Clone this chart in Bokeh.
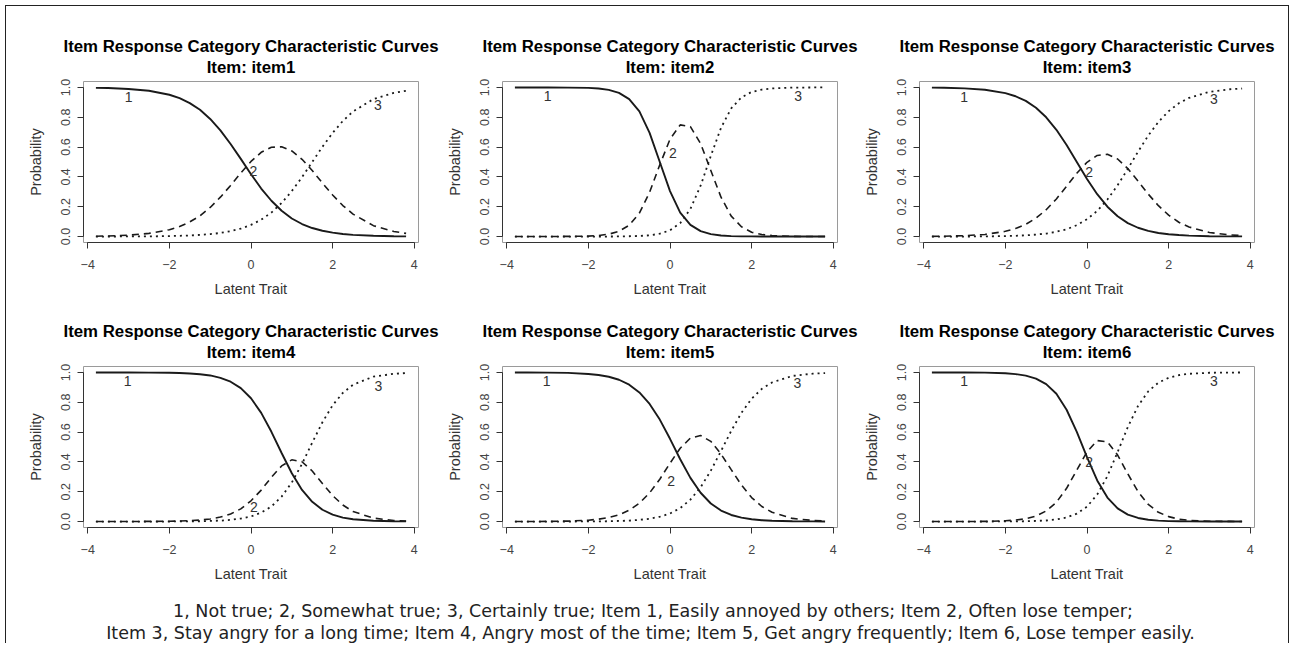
from bokeh.plotting import figure
from bokeh.models import Range1d, FixedTicker, PrintfTickFormatter, Title, Label
from bokeh.layouts import column, row
from bokeh.embed import file_html
from bokeh.resources import INLINE
from bokeh.core.properties import value

# ---------------- data ----------------
theta = [-3.8, -3.5, -3.0, -2.5, -2.0, -1.75, -1.5, -1.25, -1.0, -0.75, -0.5, -0.25,
         0.0, 0.25, 0.5, 0.75, 1.0, 1.25, 1.5, 1.75, 2.0, 2.25, 2.5, 3.0, 3.5, 3.8]

item1_cat1 = [0.997, 0.996, 0.990, 0.978, 0.951, 0.928, 0.895, 0.850, 0.789, 0.712, 0.621, 0.521, 0.418, 0.322, 0.240, 0.173, 0.121, 0.084, 0.057, 0.039, 0.026, 0.017, 0.011, 0.005, 0.002, 0.001]
item1_cat2 = [0.002, 0.004, 0.009, 0.021, 0.046, 0.067, 0.098, 0.139, 0.195, 0.264, 0.343, 0.426, 0.504, 0.565, 0.599, 0.602, 0.574, 0.518, 0.443, 0.359, 0.279, 0.208, 0.150, 0.073, 0.034, 0.021]
item1_cat3 = [0.000, 0.000, 0.001, 0.001, 0.003, 0.005, 0.007, 0.011, 0.016, 0.024, 0.036, 0.053, 0.078, 0.113, 0.161, 0.225, 0.305, 0.398, 0.500, 0.602, 0.695, 0.775, 0.839, 0.922, 0.964, 0.978]

item2_cat1 = [1.000, 1.000, 1.000, 0.999, 0.997, 0.993, 0.984, 0.964, 0.922, 0.839, 0.695, 0.500, 0.305, 0.161, 0.078, 0.036, 0.016, 0.007, 0.003, 0.001, 0.001, 0.000, 0.000, 0.000, 0.000, 0.000]
item2_cat2 = [0.000, 0.000, 0.000, 0.001, 0.003, 0.007, 0.016, 0.035, 0.076, 0.157, 0.297, 0.481, 0.653, 0.749, 0.737, 0.623, 0.443, 0.264, 0.137, 0.066, 0.029, 0.014, 0.006, 0.001, 0.000, 0.000]
item2_cat3 = [0.000, 0.000, 0.000, 0.000, 0.000, 0.000, 0.000, 0.001, 0.002, 0.004, 0.008, 0.019, 0.042, 0.090, 0.185, 0.341, 0.541, 0.729, 0.860, 0.933, 0.970, 0.986, 0.994, 0.999, 1.000, 1.000]

item3_cat1 = [0.999, 0.998, 0.994, 0.985, 0.962, 0.941, 0.910, 0.864, 0.800, 0.716, 0.614, 0.500, 0.386, 0.284, 0.200, 0.136, 0.090, 0.059, 0.038, 0.024, 0.015, 0.010, 0.006, 0.002, 0.001, 0.001]
item3_cat2 = [0.001, 0.002, 0.006, 0.014, 0.035, 0.054, 0.082, 0.123, 0.180, 0.252, 0.337, 0.424, 0.498, 0.544, 0.552, 0.520, 0.456, 0.372, 0.285, 0.207, 0.144, 0.096, 0.064, 0.027, 0.011, 0.006]
item3_cat3 = [0.000, 0.000, 0.000, 0.001, 0.003, 0.005, 0.008, 0.013, 0.020, 0.032, 0.049, 0.076, 0.116, 0.172, 0.248, 0.344, 0.454, 0.569, 0.677, 0.769, 0.841, 0.894, 0.930, 0.971, 0.988, 0.993]

item4_cat1 = [1.000, 1.000, 1.000, 0.999, 0.998, 0.996, 0.993, 0.988, 0.980, 0.964, 0.938, 0.895, 0.827, 0.729, 0.602, 0.460, 0.324, 0.212, 0.132, 0.079, 0.046, 0.026, 0.015, 0.005, 0.002, 0.001]
item4_cat2 = [0.000, 0.000, 0.000, 0.001, 0.002, 0.003, 0.006, 0.010, 0.017, 0.030, 0.051, 0.085, 0.139, 0.211, 0.297, 0.373, 0.414, 0.401, 0.339, 0.255, 0.174, 0.111, 0.067, 0.023, 0.007, 0.004]
item4_cat3 = [0.000, 0.000, 0.000, 0.000, 0.000, 0.001, 0.001, 0.002, 0.004, 0.006, 0.011, 0.020, 0.034, 0.060, 0.101, 0.167, 0.262, 0.387, 0.529, 0.666, 0.780, 0.863, 0.918, 0.972, 0.991, 0.996]

item5_cat1 = [1.000, 1.000, 0.999, 0.997, 0.990, 0.983, 0.971, 0.951, 0.918, 0.866, 0.789, 0.684, 0.555, 0.418, 0.293, 0.193, 0.121, 0.074, 0.044, 0.026, 0.015, 0.009, 0.005, 0.002, 0.001, 0.000]
item5_cat2 = [0.000, 0.000, 0.001, 0.003, 0.009, 0.016, 0.027, 0.045, 0.076, 0.123, 0.192, 0.284, 0.391, 0.492, 0.560, 0.577, 0.538, 0.453, 0.348, 0.245, 0.161, 0.101, 0.062, 0.021, 0.007, 0.004]
item5_cat3 = [0.000, 0.000, 0.000, 0.000, 0.001, 0.001, 0.002, 0.004, 0.006, 0.011, 0.019, 0.032, 0.054, 0.090, 0.147, 0.230, 0.341, 0.473, 0.608, 0.729, 0.824, 0.890, 0.933, 0.977, 0.992, 0.996]

item6_cat1 = [1.000, 1.000, 1.000, 0.999, 0.995, 0.989, 0.979, 0.959, 0.922, 0.857, 0.750, 0.602, 0.432, 0.276, 0.161, 0.088, 0.046, 0.024, 0.012, 0.006, 0.003, 0.002, 0.001, 0.000, 0.000, 0.000]
item6_cat2 = [0.000, 0.000, 0.000, 0.001, 0.005, 0.010, 0.019, 0.037, 0.071, 0.129, 0.223, 0.345, 0.468, 0.543, 0.534, 0.446, 0.320, 0.201, 0.115, 0.062, 0.033, 0.016, 0.008, 0.002, 0.001, 0.000]
item6_cat3 = [0.000, 0.000, 0.000, 0.000, 0.001, 0.001, 0.002, 0.004, 0.007, 0.014, 0.027, 0.053, 0.100, 0.181, 0.305, 0.466, 0.634, 0.775, 0.873, 0.932, 0.964, 0.982, 0.991, 0.998, 0.999, 1.000]

item_names = ["item1", "item2", "item3", "item4", "item5", "item6"]
category_labels = ["1", "2", "3"]

# where the category numbers are written in each panel
label_x = {
    "item1": [-3.00, 0.06, 3.11], "item2": [-3.00, 0.07, 3.14], "item3": [-3.01, 0.05, 3.11],
    "item4": [-3.02, 0.07, 3.12], "item5": [-3.02, 0.03, 3.12], "item6": [-3.01, 0.05, 3.11],
}
label_y = {
    "item1": [0.935, 0.44, 0.884], "item2": [0.94, 0.56, 0.94], "item3": [0.935, 0.43, 0.92],
    "item4": [0.94, 0.096, 0.91], "item5": [0.94, 0.275, 0.93], "item6": [0.94, 0.40, 0.94],
}

x_ticks = [-4, -2, 0, 2, 4]
y_ticks = [0.0, 0.2, 0.4, 0.6, 0.8, 1.0]

main_title = "Item Response Category Characteristic Curves"
x_label = "Latent Trait"
y_label = "Probability"
footer_lines = [
    "1, Not true; 2, Somewhat true; 3, Certainly true; Item 1, Easily annoyed by others; Item 2, Often lose temper;",
    "Item 3, Stay angry for a long time; Item 4, Angry most of the time; Item 5, Get angry frequently; Item 6, Lose temper easily.",
]

curves = {
    "item1": [item1_cat1, item1_cat2, item1_cat3],
    "item2": [item2_cat1, item2_cat2, item2_cat3],
    "item3": [item3_cat1, item3_cat2, item3_cat3],
    "item4": [item4_cat1, item4_cat2, item4_cat3],
    "item5": [item5_cat1, item5_cat2, item5_cat3],
    "item6": [item6_cat1, item6_cat2, item6_cat3],
}

# ---------------- styling ----------------
FONT = "Liberation Sans"
LINE_STYLES = [dict(line_dash="solid", line_width=1.9),
               dict(line_dash="7 5", line_width=1.6),
               dict(line_dash="2 4", line_width=1.8)]
FRAME_W = 335
FRAME_H = 161
BOTTOM = 60
# per column: (figure width, left border)
COLS = [(434, 77), (418, 62), (430, 61)]


def make_panel(name, width, left, top):
    p = figure(width=width, height=top + FRAME_H + BOTTOM, title=None,
               x_range=Range1d(-4.104, 4.104), y_range=Range1d(-0.04, 1.04),
               output_backend="svg", toolbar_location=None,
               min_border_left=left, min_border_right=width - left - FRAME_W,
               min_border_top=top, min_border_bottom=BOTTOM)
    p.background_fill_color = "white"
    p.border_fill_color = "white"
    p.outline_line_color = "#9a9a9a"
    p.outline_line_width = 1
    p.xgrid.visible = False
    p.ygrid.visible = False

    # two-line title
    p.add_layout(Title(text=main_title + "\n" + "Item: " + name, align="center",
                       text_align="center", text_font=FONT,
                       text_font_size="16.8px", text_font_style="bold",
                       text_line_height=1.13,
                       text_color="black", standoff=8), "above")

    for ax, ticks in ((p.xaxis[0], x_ticks), (p.yaxis[0], y_ticks)):
        ax.ticker = FixedTicker(ticks=ticks)
        ax.bounds = (ticks[0], ticks[-1])
        ax.minor_tick_line_color = None
        ax.major_tick_in = 0
        ax.major_tick_out = 6
        ax.major_tick_line_color = "#333333"
        ax.axis_line_color = "#333333"
        ax.major_label_text_font = FONT
        ax.major_label_text_font_size = "12.5px"
        ax.major_label_text_color = "#444444"
        ax.axis_label_text_font = FONT
        ax.axis_label_text_font_size = "14.5px"
        ax.axis_label_text_font_style = "normal"
        ax.axis_label_text_color = "#333333"
    p.xaxis.axis_label = x_label
    p.xaxis.major_label_standoff = 11
    p.xaxis.axis_label_standoff = 9
    p.yaxis.axis_label = y_label
    p.yaxis.formatter = PrintfTickFormatter(format="%.1f")
    p.yaxis.major_label_orientation = "vertical"
    p.yaxis.major_label_standoff = 7
    p.yaxis.axis_label_standoff = 15

    for vals, style in zip(curves[name], LINE_STYLES):
        p.line(theta, vals, line_color="#1a1a1a", **style)

    p.text(x=label_x[name], y=label_y[name], text=category_labels,
           text_font=value(FONT), text_font_size="14px", text_color="#333333",
           text_align="center", text_baseline="middle")
    return p


row1 = row(*[make_panel(n, w, l, 75) for n, (w, l) in zip(item_names[:3], COLS)])
row2 = row(*[make_panel(n, w, l, 64) for n, (w, l) in zip(item_names[3:], COLS)])

footer = figure(width=1282, height=56, x_range=Range1d(0, 1), y_range=Range1d(0, 1),
                output_backend="svg", toolbar_location=None,
                x_axis_location=None, y_axis_location=None, min_border=0)
footer.outline_line_color = None
footer.xgrid.visible = False
footer.ygrid.visible = False
for txt, fx, fy in zip(footer_lines, [0.5043, 0.5023], [0.589, 0.196]):
    footer.add_layout(Label(x=fx, y=fy, text=txt, text_align="center", text_baseline="middle",
                            text_font="DejaVu Sans", text_font_size="17.5px", text_color="#222222"))

page = column(row1, row2, footer,
              styles={"margin-left": "5px", "margin-top": "5px",
                      "border-left": "1px solid #222", "border-top": "1px solid #222",
                      "border-right": "1px solid #222"})

open("out.html", "w").write(file_html(page, INLINE))
